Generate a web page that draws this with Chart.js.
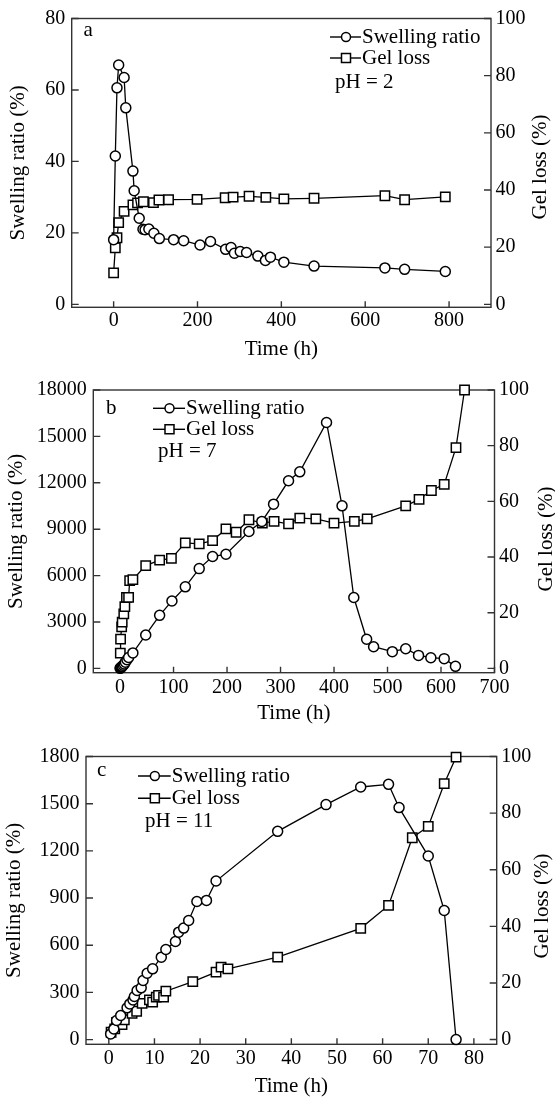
<!DOCTYPE html>
<html>
<head>
<meta charset="utf-8">
<script src="https://cdn.jsdelivr.net/npm/chart.js@4.4.1/dist/chart.umd.min.js"></script>
<style>
  html, body { margin: 0; padding: 0; background: #fff; overflow: hidden; }
  body { width: 555px; height: 1097px; position: relative; }
  canvas { position: absolute; left: 0; }
</style>
</head>
<body>
<canvas id="chartA" width="555" height="365" style="top:0px"></canvas>
<canvas id="chartB" width="555" height="367" style="top:365px"></canvas>
<canvas id="chartC" width="555" height="380" style="top:732px"></canvas>
<script>
// ---- panel a, pH = 2 ----
const timeSwellA = [0, 4, 8, 12, 25, 29, 46, 49, 61, 70, 75, 84, 96, 109, 143, 167, 206, 231, 267, 280, 288, 302, 317, 344, 362, 374, 406, 478, 647, 694, 791];
const swellA = [18.1, 41.5, 60.6, 67.0, 63.5, 55.0, 37.3, 31.8, 24.1, 21.0, 20.9, 21.1, 19.9, 18.4, 18.1, 17.8, 16.6, 17.6, 15.4, 15.9, 14.3, 14.8, 14.5, 13.5, 12.3, 13.2, 11.8, 10.7, 10.2, 9.8, 9.2];
const timeGelA = [0, 4, 8, 12, 25, 46, 57, 71, 95, 108, 131, 199, 266, 285, 323, 363, 406, 478, 647, 694, 791];
const gelA = [11.0, 19.8, 23.3, 28.6, 32.5, 34.8, 35.5, 35.9, 35.6, 36.5, 36.6, 36.7, 37.3, 37.5, 37.8, 37.4, 36.9, 37.1, 38.0, 36.6, 37.6];
const xTicksA = [0, 200, 400, 600, 800];
const yTicksA = [0, 20, 40, 60, 80];

// ---- panel b, pH = 7 ----
const timeSwellB = [0, 1, 2, 3, 4, 6, 8, 10, 13, 16, 24, 48, 74, 97, 122, 148, 173, 198, 241, 265, 287, 315, 336, 386, 415, 437, 461, 474, 509, 534, 558, 581, 606, 627];
const swellB = [0, 30, 60, 100, 140, 200, 280, 400, 560, 700, 1000, 2160, 3430, 4360, 5270, 6450, 7230, 7380, 8850, 9500, 10620, 12130, 12710, 15900, 10510, 4580, 1880, 1400, 1080, 1270, 840, 690, 630, 130];
const timeGelB = [0.5, 1, 3, 4, 7, 9, 12, 16, 18, 24, 48, 74, 96, 122, 148, 173, 198, 217, 241, 266, 288, 315, 336, 366, 400, 438, 462, 534, 559, 582, 606, 628, 644];
const gelB = [5.5, 10.5, 14.9, 16.6, 19.6, 22.2, 25.5, 25.5, 31.5, 31.9, 36.9, 38.9, 39.5, 45.1, 44.7, 45.9, 50.1, 48.9, 53.4, 52.2, 52.8, 51.9, 54.0, 53.7, 52.2, 52.8, 53.7, 58.4, 60.7, 63.9, 66.1, 79.3, 100];
const xTicksB = [0, 100, 200, 300, 400, 500, 600, 700];
const yTicksB = [0, 3000, 6000, 9000, 12000, 15000, 18000];

// ---- panel c, pH = 11 ----
const timeSwellC = [0.4, 1.1, 1.7, 2.6, 4.0, 4.6, 5.3, 5.6, 6.2, 7.1, 7.5, 8.4, 9.6, 11.5, 12.5, 14.6, 15.3, 16.4, 17.5, 19.3, 21.4, 23.5, 37.0, 47.6, 55.2, 61.3, 63.6, 70.0, 73.5, 76.1];
const swellC = [36, 68, 121, 153, 202, 227, 252, 274, 312, 329, 376, 422, 450, 524, 573, 624, 683, 709, 757, 878, 885, 1008, 1324, 1494, 1606, 1623, 1475, 1167, 821, 0];
const timeGelC = [0.5, 1.3, 1.7, 2.9, 3.4, 5.1, 6.1, 7.3, 8.9, 9.6, 10.4, 10.9, 12.0, 12.5, 18.4, 23.5, 24.6, 26.1, 37.0, 55.2, 61.3, 66.5, 70.0, 73.5, 76.1];
const gelC = [2.6, 3.8, 6.1, 5.3, 7.0, 9.3, 10.0, 12.8, 14.0, 13.2, 15.0, 15.6, 15.0, 17.1, 20.5, 23.8, 25.6, 25.0, 29.1, 39.3, 47.4, 71.3, 75.3, 90.4, 99.8];
const xTicksC = [0, 10, 20, 30, 40, 50, 60, 70, 80];
const yTicksC = [0, 300, 600, 900, 1200, 1500, 1800];

const gelTicks = [0, 20, 40, 60, 80, 100];

const FONT = '"Liberation Serif", "Times New Roman", serif';

// frame, inward ticks, legend, panel letter, right-hand title
const panelDeco = {
  id: 'panelDeco',
  beforeDatasetsDraw(chart) {
    const { ctx, chartArea: a, scales } = chart;
    ctx.save();
    ctx.strokeStyle = '#333';
    ctx.lineWidth = 1.4;
    ctx.strokeRect(a.left, a.top, a.width, a.height);
    ctx.beginPath();
    scales.x.ticks.forEach(t => {
      const p = scales.x.getPixelForValue(t.value);
      ctx.moveTo(p, a.bottom); ctx.lineTo(p, a.bottom - 6);
    });
    scales.y.ticks.forEach(t => {
      const p = scales.y.getPixelForValue(t.value);
      ctx.moveTo(a.left, p); ctx.lineTo(a.left + 7, p);
    });
    scales.y1.ticks.forEach(t => {
      const p = scales.y1.getPixelForValue(t.value);
      ctx.moveTo(a.right, p); ctx.lineTo(a.right - 7, p);
    });
    ctx.stroke();
    ctx.restore();
  },
  afterDraw(chart, args, o) {
    const ctx = chart.ctx;
    ctx.save();
    ctx.font = '21px ' + FONT;
    ctx.textBaseline = 'middle';
    ctx.textAlign = 'left';
    ctx.fillStyle = '#000';
    ctx.fillText(o.letter, o.letterX, o.letterY);
    [[o.row1Y, 'circle', 'Swelling ratio'], [o.row2Y, 'rect', 'Gel loss']].forEach(([y, shape, label]) => {
      ctx.strokeStyle = '#000';
      ctx.lineWidth = 1.4;
      ctx.beginPath();
      ctx.moveTo(o.legendX, y);
      ctx.lineTo(o.textX - 1, y);
      ctx.stroke();
      const cx = (o.legendX + o.textX) / 2;
      ctx.fillStyle = '#fff';
      ctx.lineWidth = 1.5;
      ctx.beginPath();
      if (shape === 'circle') ctx.arc(cx, y, 4.5, 0, Math.PI * 2);
      else ctx.rect(cx - 4.5, y - 4.5, 9, 9);
      ctx.fill();
      ctx.stroke();
      ctx.fillStyle = '#000';
      ctx.fillText(label, o.textX, y);
    });
    ctx.fillText(o.phText, o.phX, o.phY);
    ctx.translate(o.rtX, o.rtY);
    ctx.rotate(-Math.PI / 2);
    ctx.textAlign = 'center';
    ctx.fillText('Gel loss (%)', 0, 0);
    ctx.restore();
  }
};

function points(xs, ys) {
  return xs.map((x, i) => ({ x, y: ys[i] }));
}

function makeChart(id, p) {
  const ds = {
    borderColor: '#000',
    borderWidth: 1.3,
    pointBackgroundColor: '#fff',
    pointBorderColor: '#000',
    pointBorderWidth: 1.5,
    tension: 0,
    fill: false,
    clip: false
  };
  const tickFont = { family: FONT, size: 20 };
  const titleFont = { family: FONT, size: 21 };
  return new Chart(document.getElementById(id), {
    type: 'line',
    data: {
      datasets: [
        { ...ds, label: 'Swelling ratio', data: points(p.tSw, p.sw), yAxisID: 'y', pointStyle: 'circle', pointRadius: 5 },
        { ...ds, label: 'Gel loss', data: points(p.tGel, p.gel), yAxisID: 'y1', pointStyle: 'rect', pointRadius: 6.6 }
      ]
    },
    options: {
      responsive: false,
      animation: false,
      events: [],
      layout: { padding: { top: p.padTop, left: 0, right: 0, bottom: 0 } },
      plugins: {
        legend: { display: false },
        tooltip: { enabled: false },
        panelDeco: p.deco
      },
      scales: {
        x: {
          type: 'linear', position: 'bottom', min: p.xMin, max: p.xMax,
          grid: { display: false, drawTicks: false }, border: { display: false },
          afterBuildTicks: s => { s.ticks = p.xTicks.map(v => ({ value: v })); },
          afterFit: s => { s.height = p.axisH; },
          ticks: { font: tickFont, color: '#000', padding: p.xPad, maxRotation: 0, autoSkip: false, callback: v => String(v) },
          title: { display: true, text: 'Time (h)', font: titleFont, color: '#000', padding: { top: 0, bottom: p.xTitlePad } }
        },
        y: {
          type: 'linear', position: 'left', min: p.yMin, max: p.yMax,
          grid: { display: false, drawTicks: false }, border: { display: false },
          afterBuildTicks: s => { s.ticks = p.yTicks.map(v => ({ value: v })); },
          afterFit: s => { s.width = p.leftW; },
          ticks: { font: tickFont, color: '#000', padding: 6.5, autoSkip: false, callback: v => String(v) },
          title: { display: true, text: 'Swelling ratio (%)', font: titleFont, color: '#000', padding: { top: p.yTitlePad, bottom: 0 } }
        },
        y1: {
          type: 'linear', position: 'right', min: p.y1Min, max: 100,
          grid: { display: false, drawTicks: false }, border: { display: false },
          afterBuildTicks: s => { s.ticks = gelTicks.map(v => ({ value: v })); },
          afterFit: s => { s.width = p.rightW; },
          ticks: { font: tickFont, color: '#000', padding: 4.5, autoSkip: false, callback: v => String(v) }
        }
      }
    },
    plugins: [panelDeco]
  });
}

makeChart('chartA', {
  tSw: timeSwellA, sw: swellA, tGel: timeGelA, gel: gelA,
  xTicks: xTicksA, yTicks: yTicksA,
  xMin: -100, xMax: 900, yMin: -0.83, yMax: 80, y1Min: -1.04,
  padTop: 14.3, leftW: 71.7, rightW: 64, axisH: 57.7,
  xPad: 1, xTitlePad: 3, yTitlePad: 6,
  deco: { letter: 'a', letterX: 83.5, letterY: 30, legendX: 330, textX: 362, row1Y: 37, row2Y: 58,
          phText: 'pH = 2', phX: 335, phY: 82, rtX: 540, rtY: 167 }
});

makeChart('chartB', {
  tSw: timeSwellB, sw: swellB, tGel: timeGelB, gel: gelB,
  xTicks: xTicksB, yTicks: yTicksB,
  xMin: -50, xMax: 700, yMin: -280, yMax: 18000, y1Min: -1.56,
  padTop: 25, leftW: 93.3, rightW: 60.5, axisH: 59.3,
  xPad: 2.6, xTitlePad: 5.5, yTitlePad: 4,
  deco: { letter: 'b', letterX: 106, letterY: 43, legendX: 153, textX: 186, row1Y: 43.3, row2Y: 64.3,
          phText: 'pH = 7', phX: 158, phY: 86.7, rtX: 546, rtY: 174 }
});

makeChart('chartC', {
  tSw: timeSwellC, sw: swellC, tGel: timeGelC, gel: gelC,
  xTicks: xTicksC, yTicks: yTicksC,
  xMin: -5, xMax: 85, yMin: -30, yMax: 1800, y1Min: -1.67,
  padTop: 24.5, leftW: 86, rightW: 58.3, axisH: 67.7,
  xPad: 2.5, xTitlePad: 12.9, yTitlePad: 2.3,
  deco: { letter: 'c', letterX: 97, letterY: 38, legendX: 138, textX: 171.7, row1Y: 44, row2Y: 66.3,
          phText: 'pH = 11', phX: 145, phY: 89.7, rtX: 542, rtY: 174 }
});
</script>
</body>
</html>
